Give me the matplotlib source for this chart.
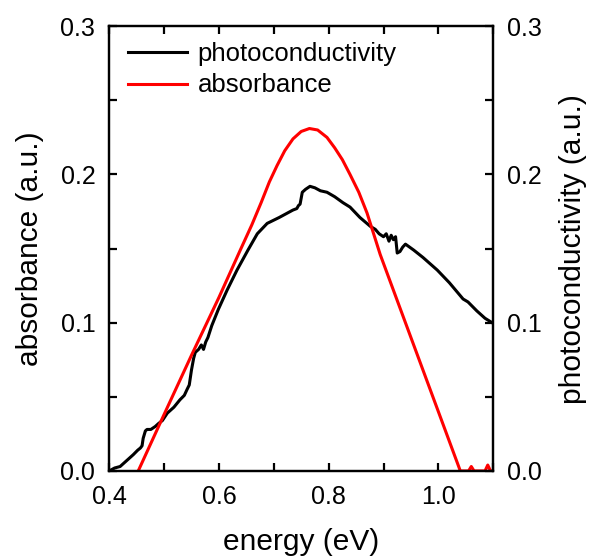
import matplotlib
matplotlib.use("Agg")
import matplotlib.pyplot as plt
from matplotlib.ticker import MultipleLocator

plt.rcParams['font.family'] = ['Liberation Sans', 'DejaVu Sans']

# photoconductivity (black)
pc_energy = [0.400, 0.410, 0.420, 0.432, 0.444, 0.452, 0.457, 0.460, 0.462, 0.466,
             0.469, 0.476, 0.484, 0.490, 0.497, 0.506, 0.518, 0.529, 0.537, 0.542,
             0.546, 0.550, 0.554, 0.557, 0.563, 0.568, 0.572, 0.576, 0.580, 0.587,
             0.599, 0.615, 0.633, 0.653, 0.670, 0.688, 0.699, 0.710, 0.720, 0.735,
             0.742, 0.745, 0.748, 0.752, 0.758, 0.766, 0.775, 0.785, 0.797, 0.811,
             0.826, 0.839, 0.857, 0.876, 0.885, 0.892, 0.900, 0.905, 0.910, 0.914,
             0.918, 0.922, 0.925, 0.930, 0.935, 0.940, 0.955, 0.972, 0.998, 1.020,
             1.045, 1.054, 1.070, 1.085, 1.098]
pc_value = [0.000, 0.002, 0.003, 0.007, 0.011, 0.014, 0.0155, 0.017, 0.022, 0.027,
            0.028, 0.028, 0.030, 0.032, 0.034, 0.039, 0.043, 0.048, 0.051, 0.055,
            0.058, 0.068, 0.076, 0.080, 0.082, 0.085, 0.082, 0.087, 0.090, 0.098,
            0.109, 0.122, 0.1355, 0.149, 0.160, 0.167, 0.169, 0.171, 0.173, 0.176,
            0.177, 0.179, 0.180, 0.188, 0.190, 0.192, 0.191, 0.189, 0.188, 0.185,
            0.181, 0.178, 0.171, 0.165, 0.163, 0.160, 0.158, 0.160, 0.155, 0.159,
            0.156, 0.158, 0.147, 0.148, 0.151, 0.153, 0.149, 0.144, 0.1355, 0.127,
            0.116, 0.114, 0.108, 0.103, 0.100]

# absorbance (red)
ab_energy = [0.453, 0.500, 0.550, 0.600, 0.639, 0.660, 0.677, 0.692, 0.706, 0.720,
             0.735, 0.750, 0.765, 0.780, 0.797, 0.811, 0.825, 0.839, 0.855, 0.870,
             0.894, 0.930, 0.980, 1.040, 1.055, 1.060, 1.065, 1.085, 1.090, 1.095,
             1.100]
ab_value = [0.000, 0.038, 0.078, 0.117, 0.149, 0.166, 0.181, 0.195, 0.206, 0.216,
            0.224, 0.229, 0.231, 0.230, 0.225, 0.218, 0.210, 0.200, 0.188, 0.174,
            0.146, 0.110, 0.060, 0.000, 0.000, 0.003, 0.000, 0.000, 0.004, 0.000,
            0.000]

fig = plt.figure(figsize=(5.9, 5.58), dpi=100)
ax = fig.add_axes([0.185, 0.156, 0.651, 0.797])

ax.plot(pc_energy, pc_value, color='black', lw=2.2, label='photoconductivity')
ax.plot(ab_energy, ab_value, color='red', lw=2.2, label='absorbance')

ax.set_xlim(0.4, 1.1)
ax.set_ylim(0, 0.3)
ax.xaxis.set_minor_locator(MultipleLocator(0.1))
ax.yaxis.set_minor_locator(MultipleLocator(0.05))
ax.set_xticks([0.4, 0.6, 0.8, 1.0])
ax.set_xticklabels(['0.4', '0.6', '0.8', '1.0'])
ax.set_yticks([0.0, 0.1, 0.2, 0.3])
ax.set_yticklabels(['0.0', '0.1', '0.2', '0.3'])

for s in ax.spines.values():
    s.set_linewidth(1.6)

ax.tick_params(which='both', direction='in', length=5.5, width=1.6,
               top=True, labelsize=18, pad=10)

ax2 = ax.twinx()
ax2.set_ylim(0, 0.3)
ax2.yaxis.set_minor_locator(MultipleLocator(0.05))
ax2.set_yticks([0.0, 0.1, 0.2, 0.3])
ax2.set_yticklabels(['0.0', '0.1', '0.2', '0.3'])
ax2.tick_params(which='both', direction='in', length=5.5, width=1.6,
                labelsize=18, pad=10)
for s in ax2.spines.values():
    s.set_linewidth(1.6)

ax.set_xlabel('energy (eV)', fontsize=21.5, labelpad=14)
ax.set_ylabel('absorbance (a.u.)', fontsize=21.5, labelpad=12)
ax2.set_ylabel('photoconductivity (a.u.)', fontsize=21.5, labelpad=12)

ax.legend(loc='upper left', bbox_to_anchor=(0.05, 0.965), frameon=False,
          fontsize=18.5, handlelength=2.3, handletextpad=0.4, borderpad=0,
          borderaxespad=0, labelspacing=0.3)

fig.savefig('out.png', dpi=100)
